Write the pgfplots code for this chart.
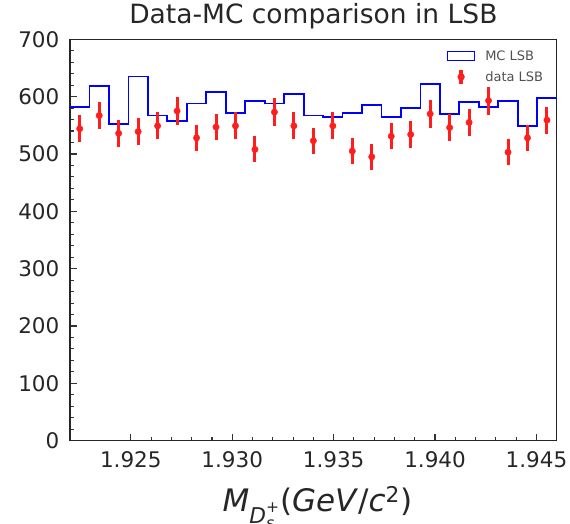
\documentclass[border=0pt]{standalone}
\usepackage{fontspec}
\setmainfont{DejaVu Sans}
\usepackage{amsmath}
\usepackage{pgfplots}
\pgfplotsset{compat=1.18}
\usepackage{pgfplotstable}
\usetikzlibrary{calc}

\definecolor{histblue}{RGB}{0,0,255}
\definecolor{datared}{RGB}{255,30,30}
\definecolor{txt}{RGB}{38,38,38}
\definecolor{legtxt}{RGB}{80,80,80}

\pgfplotstableread{
x y
1.92200 582
1.92296 619
1.92392 552
1.92488 635
1.92584 567
1.92680 557
1.92776 588
1.92872 608
1.92968 571
1.93064 593
1.93160 588
1.93256 604
1.93352 567
1.93448 564
1.93544 571
1.93640 586
1.93736 564
1.93832 580
1.93928 622
1.94024 570
1.94120 590
1.94216 582
1.94312 593
1.94408 549
1.94504 598
1.94600 598
}\mc

\pgfplotstableread{
x y e
1.92248 544 23.3
1.92344 567 23.8
1.92440 536 23.2
1.92536 539 23.2
1.92632 549 23.4
1.92728 575 24.0
1.92824 528 23.0
1.92920 547 23.4
1.93016 549 23.4
1.93112 508 22.5
1.93208 573 23.9
1.93304 549 23.4
1.93400 523 22.9
1.93496 549 23.4
1.93592 505 22.5
1.93688 495 22.2
1.93784 531 23.0
1.93880 534 23.1
1.93976 570 23.9
1.94072 546 23.4
1.94168 555 23.5
1.94264 593 24.4
1.94360 503 22.4
1.94456 528 23.0
1.94552 559 23.6
}\data

\begin{document}
\begin{tikzpicture}
\begin{axis}[
  name=ax,
  scale only axis,
  width=486.7pt, height=401.4pt,
  xmin=1.922, xmax=1.946,
  ymin=0, ymax=700,
  xtick={1.925,1.930,1.935,1.940,1.945},
  ytick={0,100,200,300,400,500,600,700},
  minor x tick num=4,
  minor y tick num=4,
  tick align=inside,
  tick pos=left,
  major tick length=7pt,
  minor tick length=4pt,
  every tick/.style={black!80, line width=1.1pt},
  axis line style={black!85, line width=1.5pt},
  /pgf/number format/assume math mode=true,
  ticklabel style={font=\fontsize{21.5}{25}\selectfont, text=txt},
  xticklabel style={/pgf/number format/.cd, fixed, fixed zerofill, precision=3, /tikz/.cd, inner sep=0pt, anchor=base, yshift=-26.6pt},
  yticklabel style={inner sep=0pt, anchor=east, xshift=-10.5pt},
  scaled x ticks=false,
  title={Data-MC comparison in LSB},
  title style={font=\fontsize{26.5}{30}\selectfont, text=txt, inner sep=0pt, anchor=base, at={(axis description cs:0.5,1)}, yshift=10pt},
  xlabel={\textit{M}$_{\text{\itshape D}_{\text{\itshape s}}^{\text{+}}}$(\textit{GeV}/\textit{c}$^{\text{2}}$)},
  xlabel style={font=\fontsize{31}{35}\selectfont, text=txt, inner sep=0pt, anchor=base, at={(axis description cs:0.5,0)}, yshift=-71pt, xshift=4pt},
  legend style={draw=none, fill=none, font=\fontsize{13}{15}\selectfont, text=legtxt,
    at={(rel axis cs:1,1)}, anchor=north east, xshift=-12.4pt, yshift=-9.7pt,
    row sep=6.7pt, column sep=9pt, inner sep=0pt,
    nodes={inner sep=1pt}},
  legend cell align=left,
]
\addplot[const plot, histblue, line width=1.8pt,
  legend image code/.code={\path[draw=none, fill=none] (0pt,-7pt) rectangle (27pt,7pt); \draw[histblue, line width=1.3pt] (0pt,-4.4pt) rectangle (27pt,4.4pt);}]
  table[x=x, y=y] {\mc};
\addlegendentry{MC LSB}
\addplot[only marks, mark=*, mark size=3.2pt, color=datared,
  /pgfplots/legend image code/.code={\path[draw=none, fill=none] (0pt,-7pt) rectangle (27pt,7pt); \fill[datared] (12pt,-6.7pt) rectangle (15pt,6.7pt); \fill[datared] (13.5pt,0pt) circle (3.4pt);},
  error bars/.cd, y dir=both, y explicit, error mark=none,
  error bar style={line width=3pt, datared}]
  table[x=x, y=y, y error=e] {\data};
\addlegendentry{data LSB}
\end{axis}
\pgfresetboundingbox
\path ($(ax.south west)+(-70pt,-83.3pt)$) rectangle ($(ax.north east)+(13.3pt,39.3pt)$);
\end{tikzpicture}
\end{document}
